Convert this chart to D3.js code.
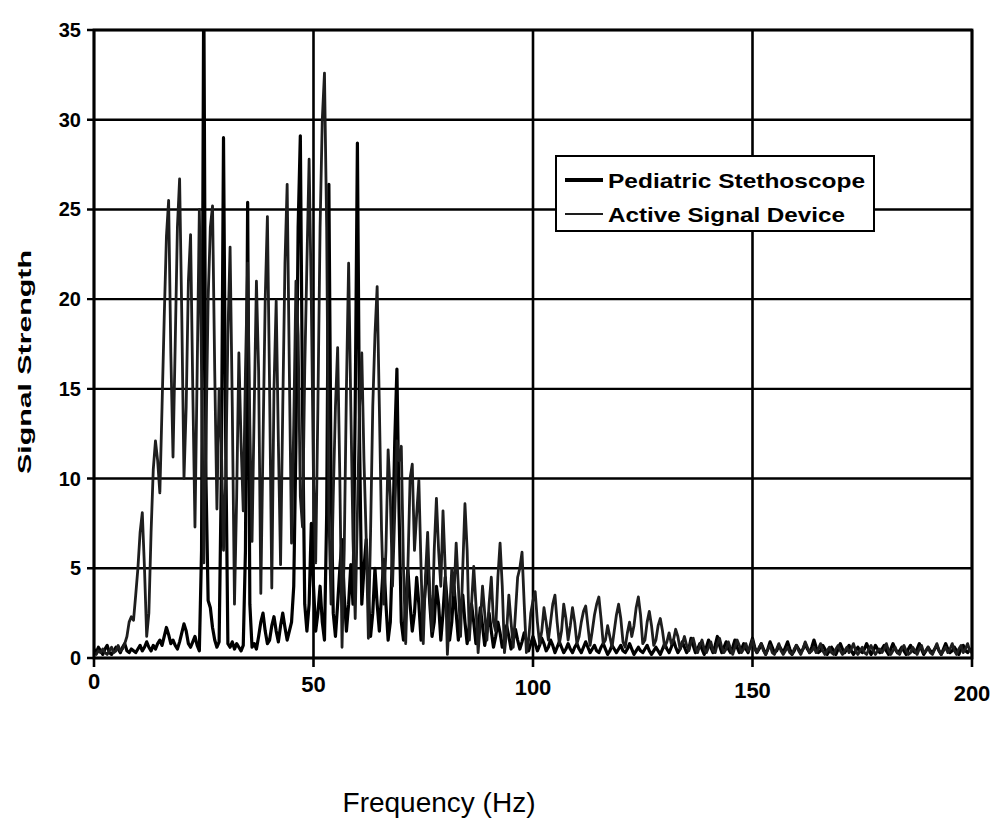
<!DOCTYPE html>
<html>
<head>
<meta charset="utf-8">
<script src="https://cdn.jsdelivr.net/npm/d3@7/dist/d3.min.js"></script>
<style>
  body { margin: 0; background: #fff; }
  svg { display: block; font-family: "Liberation Sans", Arial, sans-serif; }
</style>
</head>
<body>
<svg width="996" height="837"></svg>
<script>
// spectrum sampled every 0.5 Hz, 0..200 Hz (one row = 10 Hz)
const freqStep = 0.5
const seriesNames = ['Pediatric Stethoscope', 'Active Signal Device']
const xTicks = [0, 50, 100, 150, 200]
const yTicks = [0, 5, 10, 15, 20, 25, 30, 35]

const pediatric = [
  0.5, 0.3, 0.6, 0.4, 0.2, 0.5, 0.7, 0.3, 0.2, 0.4, 0.6, 0.5, 0.3, 0.6, 0.8, 0.4, 0.3, 0.5, 0.4, 0.3,
  0.5, 0.7, 0.4, 0.6, 0.9, 0.6, 0.4, 0.7, 0.5, 0.8, 1.0, 0.7, 1.2, 1.7, 1.3, 0.8, 1.0, 0.7, 0.5, 0.9,
  1.4, 1.9, 1.5, 0.8, 0.6, 0.9, 1.2, 0.7, 0.4, 6.0, 38.0, 10.0, 3.2, 2.8, 1.7, 1.0, 0.6, 0.9, 10.0, 29.0,
  12.0, 0.8, 0.6, 0.9, 0.5, 0.8, 0.6, 0.4, 0.7, 6.0, 25.4, 3.0, 0.6, 0.8, 0.5, 1.2, 2.0, 2.5, 1.5, 0.8,
  1.0, 1.8, 2.3, 1.5, 0.9, 1.8, 2.5, 1.7, 1.0, 1.5, 2.0, 4.0, 12.0, 24.0, 29.1, 14.0, 3.0, 1.5, 3.0, 7.5,
  4.0, 1.5, 2.5, 4.0, 2.0, 1.0, 8.0, 26.4, 10.0, 2.5, 1.2, 3.0, 5.0, 6.6, 3.5, 1.5, 3.0, 5.2, 3.0, 14.0,
  28.7, 12.0, 3.0, 5.0, 6.6, 3.5, 1.2, 2.5, 5.0, 3.0, 1.5, 3.5, 5.5, 3.0, 1.0, 2.0, 6.0, 12.0, 16.1, 8.0,
  2.0, 1.0, 3.0, 5.0, 3.0, 1.5, 2.5, 4.5, 3.0, 1.0, 2.5, 4.0, 5.5, 3.0, 1.2, 2.0, 4.0, 3.0, 1.0, 2.5,
  4.5, 3.0, 1.0, 2.0, 4.0, 2.5, 1.0, 2.5, 3.5, 2.0, 0.8, 1.8, 3.0, 2.0, 0.8, 1.5, 2.8, 1.8, 0.7, 1.5,
  2.5, 1.5, 0.6, 1.2, 2.0, 1.4, 0.6, 1.0, 1.8, 1.2, 0.5, 1.0, 1.6, 1.0, 0.5, 0.9, 1.4, 1.0, 0.4, 0.8,
  1.2, 0.8, 0.4, 0.7, 1.1, 0.8, 0.4, 0.6, 1.0, 0.7, 0.3, 0.6, 0.9, 0.6, 0.3, 0.5, 0.8, 0.5, 0.3, 0.6,
  0.8, 0.5, 0.3, 0.6, 0.9, 0.6, 0.3, 0.5, 0.7, 0.4, 0.3, 0.6, 0.8, 0.5, 0.2, 0.4, 0.7, 0.5, 0.3, 0.5,
  0.7, 0.4, 0.3, 0.5, 0.8, 0.5, 0.2, 0.4, 0.6, 0.4, 0.3, 0.5, 0.7, 0.4, 0.2, 0.4, 0.6, 0.4, 0.2, 0.5,
  0.8, 0.5, 0.3, 0.6, 1.0, 0.6, 0.3, 0.5, 0.9, 0.6, 0.3, 0.5, 1.1, 0.7, 0.3, 0.5, 0.8, 0.5, 0.2, 0.6,
  1.0, 0.6, 0.3, 0.7, 1.2, 0.7, 0.3, 0.6, 0.9, 0.5, 0.3, 0.6, 1.0, 0.6, 0.3, 0.5, 0.8, 0.5, 0.3, 0.7,
  1.1, 0.6, 0.3, 0.5, 0.8, 0.5, 0.2, 0.5, 0.9, 0.6, 0.3, 0.4, 0.7, 0.5, 0.3, 0.6, 0.9, 0.5, 0.2, 0.4,
  0.7, 0.5, 0.3, 0.5, 0.8, 0.5, 0.3, 0.6, 1.0, 0.6, 0.3, 0.4, 0.7, 0.5, 0.2, 0.4, 0.6, 0.4, 0.2, 0.5,
  0.8, 0.5, 0.3, 0.5, 0.7, 0.4, 0.2, 0.4, 0.6, 0.4, 0.3, 0.5, 0.8, 0.5, 0.2, 0.4, 0.7, 0.5, 0.3, 0.5,
  0.7, 0.4, 0.2, 0.5, 0.8, 0.5, 0.3, 0.4, 0.6, 0.4, 0.2, 0.5, 0.7, 0.4, 0.3, 0.5, 0.8, 0.5, 0.2, 0.4,
  0.6, 0.4, 0.3, 0.5, 0.7, 0.4, 0.2, 0.5, 0.8, 0.5, 0.3, 0.4, 0.6, 0.4, 0.2, 0.5, 0.7, 0.4, 0.3, 0.5,
  0.3
]

const activeDevice = [
  0.3, 0.2, 0.4, 0.3, 0.5, 0.3, 0.2, 0.4, 0.6, 0.3, 0.4, 0.7, 0.4, 0.5, 0.8, 1.2, 2.0, 2.3, 2.1, 3.5,
  5.0, 7.0, 8.1, 5.0, 1.2, 2.5, 7.0, 10.5, 12.1, 11.0, 9.2, 14.0, 19.0, 23.5, 25.5, 17.0, 11.2, 17.5, 24.0, 26.7,
  19.0, 10.0, 14.0, 21.0, 23.6, 15.0, 7.3, 16.0, 25.0, 16.0, 5.3, 12.0, 20.0, 24.0, 25.2, 16.0, 8.3, 15.0, 12.0, 6.0,
  10.0, 18.0, 22.9, 14.0, 3.0, 9.0, 17.0, 12.0, 8.2, 16.0, 22.0, 13.0, 6.5, 14.0, 21.0, 16.0, 3.6, 12.0, 20.0, 24.6,
  15.0, 3.9, 15.0, 19.9, 12.0, 5.2, 14.0, 22.0, 26.4, 16.0, 6.4, 13.0, 21.0, 18.0, 9.0, 7.3, 16.0, 22.0, 27.8, 20.0,
  9.9, 5.3, 14.0, 24.0, 30.0, 32.6, 24.0, 8.0, 3.0, 9.0, 14.0, 17.3, 10.0, 0.6, 6.0, 15.0, 22.0, 14.0, 6.6, 2.2,
  8.0, 14.0, 17.0, 11.0, 6.7, 1.1, 7.0, 14.0, 18.0, 20.7, 14.0, 7.1, 3.0, 6.0, 11.6, 9.0, 4.0, 8.0, 12.1, 11.0,
  11.8, 5.0, 0.8, 5.0, 10.0, 10.8, 6.0, 8.0, 9.9, 5.0, 0.8, 4.5, 7.0, 3.5, 1.5, 6.0, 8.9, 6.0, 4.0, 8.2,
  5.0, 0.2, 2.5, 5.0, 3.5, 6.4, 4.0, 1.2, 5.0, 8.6, 6.0, 1.0, 3.0, 5.1, 3.0, 0.3, 2.0, 4.0, 2.5, 1.0,
  3.0, 4.5, 2.0, 1.5, 4.5, 6.4, 4.0, 0.3, 1.5, 3.5, 2.0, 0.6, 2.5, 4.5, 5.0, 5.9, 3.0, 0.3, 1.0, 2.5,
  3.2, 3.7, 2.0, 0.8, 1.5, 2.8, 2.0, 1.0, 2.0, 3.0, 3.5, 2.0, 0.8, 1.5, 3.0, 2.2, 1.0, 1.8, 2.8, 2.0,
  0.8, 1.2, 2.0, 2.6, 2.9, 1.8, 0.7, 1.5, 2.4, 3.0, 3.4, 2.2, 0.8, 1.0, 1.8, 1.2, 0.6, 1.5, 2.4, 3.0,
  2.2, 0.9, 0.6, 1.4, 2.0, 1.2, 1.8, 2.8, 3.4, 2.4, 0.8, 1.0, 2.0, 2.6, 1.8, 0.7, 1.0, 1.8, 2.2, 1.5,
  0.6, 0.9, 1.4, 0.8, 1.0, 1.6, 1.2, 0.5, 0.8, 1.2, 0.7, 0.4, 0.9, 1.1, 0.6, 0.3, 0.7, 1.0, 0.5, 0.3,
  0.6, 0.9, 0.4, 0.3, 0.8, 1.1, 0.6, 0.3, 0.5, 0.9, 0.5, 0.2, 0.6, 1.0, 0.7, 0.3, 0.5, 0.8, 0.4, 0.6,
  1.0, 0.5, 0.3, 0.6, 0.8, 0.4, 0.2, 0.5, 0.7, 0.3, 0.2, 0.5, 0.8, 0.4, 0.2, 0.4, 0.6, 0.3, 0.2, 0.5,
  0.7, 0.4, 0.2, 0.5, 0.9, 0.6, 0.3, 0.4, 0.6, 0.3, 0.5, 0.8, 0.4, 0.2, 0.4, 0.6, 0.3, 0.2, 0.5, 0.7,
  0.4, 0.2, 0.4, 0.6, 0.3, 0.5, 0.8, 0.4, 0.2, 0.4, 0.6, 0.3, 0.2, 0.5, 0.7, 0.4, 0.2, 0.4, 0.5, 0.3,
  0.5, 0.8, 0.4, 0.2, 0.4, 0.6, 0.3, 0.2, 0.5, 0.7, 0.4, 0.2, 0.3, 0.6, 0.4, 0.2, 0.5, 0.7, 0.3, 0.4,
  0.6, 0.3, 0.2, 0.5, 0.8, 0.4, 0.2, 0.4, 0.6, 0.3, 0.5, 0.8, 0.4, 0.2, 0.5, 0.7, 0.3, 0.5, 0.8, 0.4,
  0.3
]

const svg = d3.select('svg')
const plot = { left: 94, right: 972, top: 30, bottom: 658 }

const x = d3.scaleLinear().domain([0, 200]).range([plot.left, plot.right])
const y = d3.scaleLinear().domain([0, 35]).range([plot.bottom, plot.top])

// grid
svg.append('g')
  .selectAll('line.h')
  .data(yTicks)
  .enter().append('line')
    .attr('x1', plot.left - 7).attr('x2', plot.right)
    .attr('y1', d => y(d)).attr('y2', d => y(d))
    .attr('stroke', '#000').attr('stroke-width', 2.4)

svg.append('g')
  .selectAll('line.v')
  .data(xTicks)
  .enter().append('line')
    .attr('x1', d => x(d)).attr('x2', d => x(d))
    .attr('y1', plot.top).attr('y2', plot.bottom + 9)
    .attr('stroke', '#000').attr('stroke-width', 2.6)

// tick labels
svg.append('g')
  .selectAll('text')
  .data(yTicks)
  .enter().append('text')
    .attr('x', 81)
    .attr('y', d => y(d) + 7)
    .attr('text-anchor', 'end')
    .attr('font-size', 20)
    .attr('font-weight', 'bold')
    .text(d => d)

svg.append('g')
  .selectAll('text')
  .data(xTicks)
  .enter().append('text')
    .attr('x', d => x(d))
    .attr('y', (d, i) => 689 + i * 3)
    .attr('text-anchor', 'middle')
    .attr('font-size', 22)
    .attr('font-weight', 'bold')
    .text(d => d)

svg.append('text')
  .attr('transform', 'translate(31,362) rotate(-90)')
  .attr('text-anchor', 'middle')
  .attr('font-size', 19)
  .attr('font-weight', 'bold')
  .attr('textLength', 224)
  .attr('lengthAdjust', 'spacingAndGlyphs')
  .text('Signal Strength')

svg.append('text')
  .attr('x', 439).attr('y', 812)
  .attr('text-anchor', 'middle')
  .attr('font-size', 28)
  .text('Frequency (Hz)')

// series
svg.append('clipPath').attr('id', 'plot-clip')
  .append('rect')
    .attr('x', plot.left).attr('y', plot.top)
    .attr('width', plot.right - plot.left).attr('height', plot.bottom - plot.top)

const line = d3.line()
  .x((d, i) => x(i * freqStep))
  .y(d => y(d))

const series = [
  { name: seriesNames[0], values: pediatric, color: '#000', width: 3.2 },
  { name: seriesNames[1], values: activeDevice, color: '#1e1e1e', width: 2.8 },
]

svg.append('g')
  .attr('clip-path', 'url(#plot-clip)')
  .selectAll('path')
  .data(series)
  .enter().append('path')
    .attr('d', d => line(d.values))
    .attr('fill', 'none')
    .attr('stroke', d => d.color)
    .attr('stroke-width', d => d.width)
    .attr('stroke-linejoin', 'round')

// frame
svg.append('rect')
  .attr('x', plot.left).attr('y', plot.top)
  .attr('width', plot.right - plot.left).attr('height', plot.bottom - plot.top)
  .attr('fill', 'none').attr('stroke', '#000').attr('stroke-width', 2.8)

// legend
const legend = svg.append('g').attr('transform', 'translate(556,156)')
legend.append('rect')
  .attr('width', 318).attr('height', 75)
  .attr('fill', '#fff').attr('stroke', '#000').attr('stroke-width', 2)

const legendRows = legend.selectAll('g.row')
  .data(series)
  .enter().append('g')
    .attr('transform', (d, i) => `translate(0,${24 + i * 34})`)

legendRows.append('line')
  .attr('x1', 9).attr('x2', 47)
  .attr('stroke', d => d.color)
  .attr('stroke-width', (d, i) => i === 0 ? 4 : 2)

legendRows.append('text')
  .attr('x', 52).attr('y', 8)
  .attr('font-size', 21)
  .attr('font-weight', 'bold')
  .attr('textLength', (d, i) => i === 0 ? 257 : 237)
  .attr('lengthAdjust', 'spacingAndGlyphs')
  .text(d => d.name)
</script>
</body>
</html>
